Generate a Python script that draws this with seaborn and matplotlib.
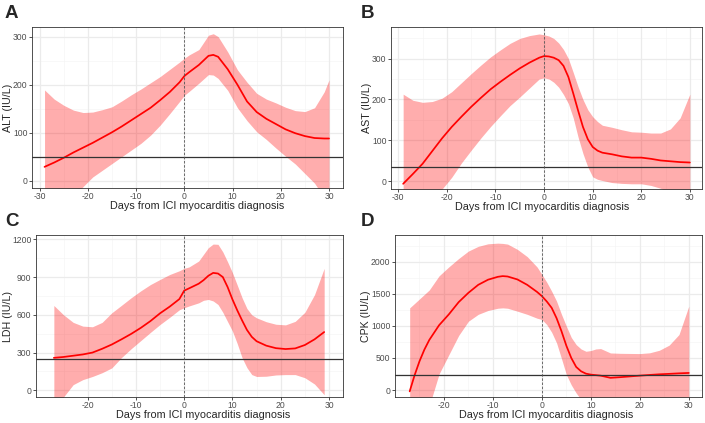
import numpy as np
import pandas as pd
import matplotlib
matplotlib.use("Agg")
import matplotlib.pyplot as plt
import seaborn as sns

sns.set_style("white")
plt.rcParams['font.family'] = ['Liberation Sans', 'DejaVu Sans']
plt.rcParams['axes.unicode_minus'] = False

# ---------------- data ----------------
# Panel A: ALT
alt_days = [-29, -27, -25, -23, -21, -19, -17, -15, -13, -11, -9, -7, -5, -3, -1, 0, 1, 3, 5, 6, 7, 9, 11, 13, 15, 17, 19, 21, 23, 25, 27, 29, 30]
alt_fit = [29, 38, 48, 59, 69, 79, 90, 101, 113, 126, 139, 152, 168, 185, 205, 218, 226, 241, 260, 262, 258, 232, 200, 165, 143, 129, 118, 107, 99, 93, 89, 88, 88]
alt_upper = [189, 170, 157, 147, 142, 143, 148, 154, 166, 179, 191, 204, 217, 232, 247, 255, 262, 273, 303, 306, 300, 268, 231, 205, 182, 170, 162, 153, 146, 144, 152, 185, 210]
alt_lower = [-130, -95, -65, -35, -12, 8, 22, 36, 50, 64, 78, 95, 116, 140, 165, 178, 186, 203, 221, 220, 213, 188, 152, 125, 102, 86, 68, 51, 35, 15, -5, -35, -60]
alt_limit = 49

# Panel B: AST
ast_days = [-29, -27, -25, -23, -21, -19, -17, -15, -13, -11, -9, -7, -5, -3, -1, 0, 1, 2, 3, 4, 5, 6, 7, 8, 9, 10, 11, 12, 14, 16, 18, 20, 22, 24, 26, 28, 30]
ast_fit = [-6, 18, 43, 74, 105, 133, 158, 182, 204, 225, 243, 260, 276, 290, 302, 306, 305, 302, 296, 282, 255, 215, 173, 133, 103, 84, 75, 70, 66, 61, 58, 58, 55, 51, 49, 47, 46]
ast_upper = [213, 198, 193, 195, 203, 219, 241, 263, 284, 304, 321, 337, 349, 356, 360, 358, 355, 349, 338, 322, 300, 266, 231, 200, 175, 158, 146, 137, 132, 126, 121, 120, 118, 118, 128, 155, 213]
ast_lower = [-160, -120, -82, -48, -19, 10, 45, 76, 106, 134, 160, 185, 206, 228, 250, 253, 250, 242, 230, 212, 190, 155, 108, 68, 35, 11, 5, 2, -3, -5, -6, -6, -10, -17, -30, -50, -80]
ast_limit = 35

# Panel C: LDH
ldh_days = [-27, -25, -23, -21, -19, -17, -15, -13, -11, -9, -7, -5, -3, -1, 0, 1, 3, 4, 5, 6, 7, 8, 9, 10, 11, 12, 13, 14, 15, 17, 19, 21, 23, 25, 27, 29]
ldh_fit = [258, 265, 275, 285, 300, 330, 364, 405, 448, 496, 550, 612, 665, 725, 792, 810, 847, 875, 910, 933, 928, 900, 820, 722, 635, 555, 480, 425, 390, 355, 335, 328, 333, 360, 405, 463]
ldh_upper = [674, 600, 540, 510, 505, 540, 616, 675, 735, 790, 840, 881, 920, 950, 969, 980, 1027, 1080, 1133, 1162, 1160, 1100, 1020, 934, 835, 735, 650, 600, 576, 545, 525, 520, 548, 620, 760, 969]
ldh_lower = [-200, -53, 45, 85, 110, 140, 178, 260, 330, 395, 460, 523, 580, 640, 656, 670, 695, 715, 722, 710, 682, 620, 545, 470, 370, 258, 180, 125, 110, 112, 122, 125, 125, 100, 50, -35]
ldh_limit = 245

# Panel D: CPK
cpk_days = [-27, -26, -25, -24, -23, -21, -19, -17, -15, -13, -11, -9, -8, -7, -5, -3, -1, 0, 1, 2, 3, 4, 5, 6, 7, 8, 9, 10, 11, 12, 14, 16, 18, 20, 22, 24, 26, 28, 30]
cpk_fit = [-21, 230, 448, 630, 780, 1010, 1180, 1370, 1516, 1640, 1720, 1765, 1776, 1770, 1724, 1640, 1530, 1464, 1380, 1281, 1120, 917, 690, 500, 360, 292, 255, 240, 232, 224, 190, 200, 212, 224, 235, 245, 252, 260, 266]
cpk_upper = [1281, 1350, 1420, 1490, 1560, 1780, 1920, 2050, 2167, 2240, 2280, 2290, 2286, 2275, 2193, 2080, 1920, 1802, 1680, 1540, 1385, 1180, 995, 820, 708, 640, 604, 615, 640, 646, 578, 572, 570, 568, 580, 620, 700, 865, 1307]
cpk_lower = [-1500, -1150, -800, -500, -250, 250, 550, 850, 1073, 1180, 1240, 1275, 1281, 1275, 1229, 1180, 1120, 1099, 1020, 900, 734, 490, 240, 80, -47, -150, -220, -250, -270, -280, -300, -300, -300, -300, -300, -300, -300, -300, -300]
cpk_limit = 240

x_label = "Days from ICI myocarditis diagnosis"

panels = [
    dict(tag="A", ylab="ALT (IU/L)", days=alt_days, fit=alt_fit, up=alt_upper, lo=alt_lower, lim=alt_limit,
         box=(32, 27, 343, 188), xlim=(-31.6, 32.9), ylim=(-15, 320), xt=[-30, -20, -10, 0, 10, 20, 30],
         yt=[0, 100, 200, 300], tag_xy=(5, 18), ylab_x=8, xlab_x=197),
    dict(tag="B", ylab="AST (IU/L)", days=ast_days, fit=ast_fit, up=ast_upper, lo=ast_lower, lim=ast_limit,
         box=(391, 27, 702, 189), xlim=(-31.5, 32.5), ylim=(-18.7, 377), xt=[-30, -20, -10, 0, 10, 20, 30],
         yt=[0, 100, 200, 300], tag_xy=(361, 18), ylab_x=367, xlab_x=542),
    dict(tag="C", ylab="LDH (IU/L)", days=ldh_days, fit=ldh_fit, up=ldh_upper, lo=ldh_lower, lim=ldh_limit,
         box=(36, 235, 343, 397), xlim=(-30.7, 32.9), ylim=(-53, 1234), xt=[-20, -10, 0, 10, 20, 30],
         yt=[0, 300, 600, 900, 1200], tag_xy=(5, 226), ylab_x=8, xlab_x=203),
    dict(tag="D", ylab="CPK (IU/L)", days=cpk_days, fit=cpk_fit, up=cpk_upper, lo=cpk_lower, lim=cpk_limit,
         box=(395, 235, 702, 397), xlim=(-30.0, 32.7), ylim=(-109, 2417), xt=[-20, -10, 0, 10, 20, 30],
         yt=[0, 500, 1000, 1500, 2000], tag_xy=(361, 226), ylab_x=366, xlab_x=546),
]

W, H = 705, 423
fig = plt.figure(figsize=(W / 100, H / 100), dpi=100)

for p in panels:
    x0, y0, x1, y1 = p["box"]
    ax = fig.add_axes([x0 / W, 1 - y1 / H, (x1 - x0) / W, (y1 - y0) / H])
    df = pd.DataFrame({"day": p["days"], "fit": p["fit"], "up": p["up"], "lo": p["lo"]})
    ax.set_xlim(*p["xlim"])
    ax.set_ylim(*p["ylim"])
    xt = p["xt"]; yt = p["yt"]
    dx = xt[1] - xt[0]; dy = yt[1] - yt[0]
    xminor = np.arange(xt[0] - dx / 2, xt[-1] + dx, dx)
    yminor = np.arange(yt[0] - dy / 2, yt[-1] + dy, dy)
    for v in xminor:
        if p["xlim"][0] < v < p["xlim"][1]:
            ax.axvline(v, color="#F5F5F5", lw=0.5, zorder=0)
    for v in yminor:
        if p["ylim"][0] < v < p["ylim"][1]:
            ax.axhline(v, color="#F5F5F5", lw=0.5, zorder=0)
    for v in xt:
        ax.axvline(v, color="#EBEBEB", lw=0.9, zorder=0)
    for v in yt:
        ax.axhline(v, color="#EBEBEB", lw=0.9, zorder=0)

    ax.fill_between(df["day"], df["lo"], df["up"], color="red", alpha=0.32, lw=0, zorder=1)
    sns.lineplot(data=df, x="day", y="fit", ax=ax, color="red", lw=1.25, zorder=3)
    ax.axhline(p["lim"], color="#333333", lw=0.9, zorder=4)
    ax.axvline(0, color="#555555", lw=0.6, ls=(0, (3, 2)), zorder=4)

    ax.set_xticks(xt)
    ax.set_yticks(yt)
    ax.set_xticklabels([str(v) for v in xt])
    ax.set_yticklabels([str(v) for v in yt])
    ax.tick_params(axis="both", labelsize=6.2, colors="#333333", labelcolor="#4D4D4D",
                   length=2.2, width=0.6, direction="out", pad=1)
    ax.tick_params(left=True, bottom=True)
    for s in ax.spines.values():
        s.set_color("#333333")
        s.set_linewidth(0.6)
        s.set_visible(True)
    ax.set_xlabel("")
    ax.set_ylabel("")
    fig.text(p["xlab_x"] / W, 1 - (y1 + 17.5) / H, x_label, ha="center", va="center", fontsize=7.8)
    fig.text(p["ylab_x"] / W, 1 - ((y0 + y1) / 2) / H, p["ylab"], rotation=90, ha="center", va="center", fontsize=7.7)
    tx, ty = p["tag_xy"]
    fig.text(tx / W, 1 - ty / H, p["tag"], ha="left", va="baseline", fontsize=13.5, fontweight="bold")

fig.savefig("out.png", dpi=100)
